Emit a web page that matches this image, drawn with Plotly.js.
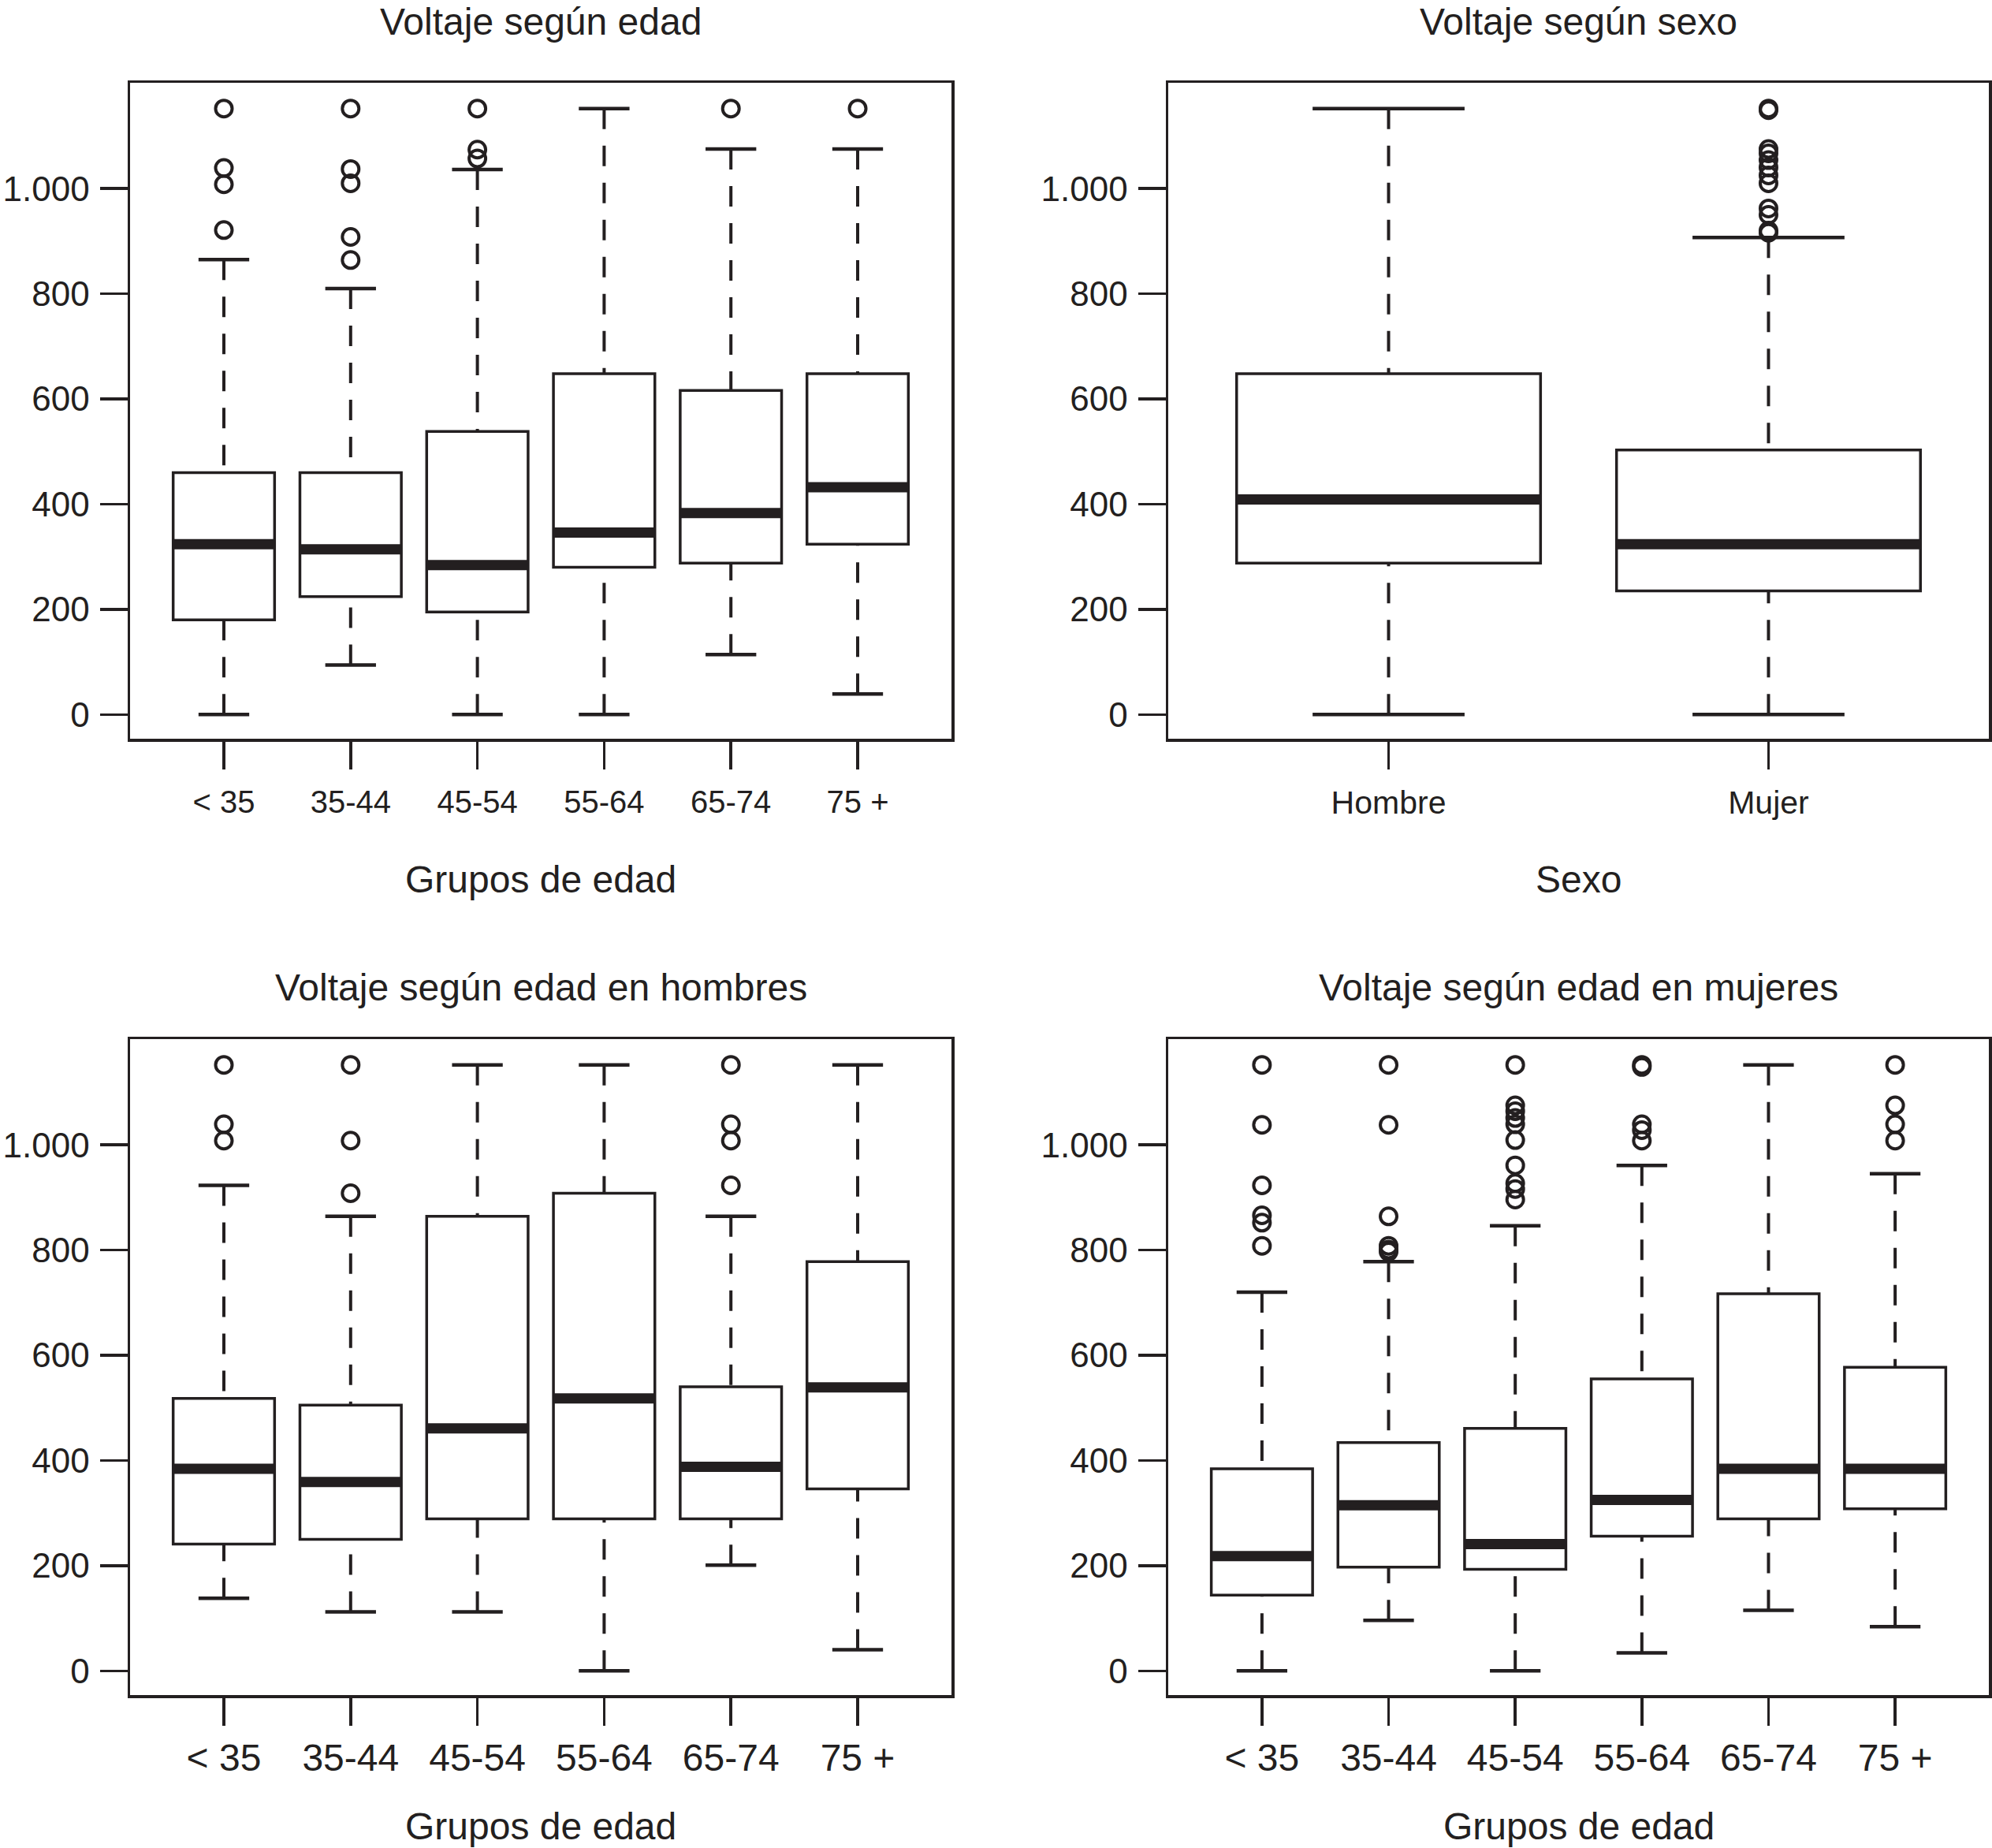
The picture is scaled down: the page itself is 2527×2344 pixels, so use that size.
<!DOCTYPE html>
<html>
<head>
<meta charset="utf-8">
<script src="https://cdn.plot.ly/plotly-3.0.1.min.js"></script>
<style>
	html, body { margin: 0; padding: 0; background: #fff; }
	#chart { width: 2527px; height: 2344px; }
</style>
</head>
<body>
<div id="chart"></div>
<script>
'use strict';

// categories and tick labels
const ageGroups = ['< 35', '35-44', '45-54', '55-64', '65-74', '75 +'];
const sexGroups = ['Hombre', 'Mujer'];
const yTickVals = [0, 200, 400, 600, 800, 1000];
const yTickText = ['0', '200', '400', '600', '800', '1.000'];

// Voltaje según edad
const ageLow = [0, 94, 0, 0, 114, 39];
const ageQ1 = [180, 224, 195, 280, 288, 324];
const ageMed = [324, 314, 284, 346, 383, 432];
const ageQ3 = [460, 460, 538, 648, 616, 648];
const ageHigh = [865, 810, 1036, 1152, 1075, 1075];
const ageOut = [
	[1152, 1039, 1008, 921],
	[1152, 1037, 1010, 908, 864],
	[1152, 1074, 1057],
	[],
	[1152],
	[1152]
];

// Voltaje según sexo
const sexLow = [0, 0];
const sexQ1 = [288, 235];
const sexMed = [409, 324];
const sexQ3 = [648, 503];
const sexHigh = [1152, 907];
const sexOut = [
	[],
	[1152, 1149, 1075, 1067, 1054, 1040, 1025, 1010, 962, 950, 920, 916]
];

// Voltaje según edad en hombres
const menLow = [138, 112, 112, 0, 201, 40];
const menQ1 = [241, 250, 289, 289, 289, 346];
const menMed = [384, 359, 461, 518, 388, 539];
const menQ3 = [518, 505, 864, 908, 540, 778];
const menHigh = [923, 864, 1152, 1152, 864, 1152];
const menOut = [
	[1152, 1039, 1008],
	[1152, 1008, 908],
	[],
	[],
	[1152, 1039, 1008, 923],
	[]
];

// Voltaje según edad en mujeres
const womenLow = [0, 96, 0, 34, 115, 84];
const womenQ1 = [144, 197, 193, 256, 289, 308];
const womenMed = [218, 315, 241, 325, 384, 384];
const womenQ3 = [384, 434, 461, 555, 717, 577];
const womenHigh = [720, 778, 846, 961, 1152, 945];
const womenOut = [
	[1152, 1038, 923, 866, 852, 808],
	[1152, 1038, 864, 808, 801, 797],
	[1152, 1075, 1064, 1051, 1039, 1009, 961, 927, 916, 896],
	[1152, 1148, 1039, 1028, 1008],
	[],
	[1152, 1075, 1039, 1008]
];

document.addEventListener('DOMContentLoaded', function(){

	const ink = '#231f20';
	const font = 'Liberation Sans, Arial, Helvetica, sans-serif';
	const boxWidth = 0.8, capWidth = 0.4;

	function panel(cats, low, q1, med, q3, high, outl, xa, ya)
	{
		const pos = cats.map(function(c, i){ return i + 1; });
		let wx = [], wy = [], cx = [], cy = [], mx = [], my = [], ox = [], oy = [];

		pos.forEach(function(p, i){
			// dashed whiskers, drawn from the staple in towards the box
			wx.push(p, p, null, p, p, null);
			wy.push(high[i], q3[i], null, low[i], q1[i], null);
			// staples
			cx.push(p - capWidth / 2, p + capWidth / 2, null, p - capWidth / 2, p + capWidth / 2, null);
			cy.push(high[i], high[i], null, low[i], low[i], null);
			// thick median
			mx.push(p - boxWidth / 2, p + boxWidth / 2, null);
			my.push(med[i], med[i], null);
			outl[i].forEach(function(v){
				ox.push(p);
				oy.push(v);
			});
		});

		const box = {
			type: 'box', x: pos, q1: q1, median: med, q3: q3,
			lowerfence: q1, upperfence: q3,
			width: boxWidth, whiskerwidth: 0,
			line: {color: ink, width: 3.5}, fillcolor: '#ffffff',
			xaxis: xa, yaxis: ya, hoverinfo: 'skip', showlegend: false
		};
		const whiskers = {
			type: 'scatter', mode: 'lines', x: wx, y: wy,
			line: {color: ink, width: 4, dash: '26px,21px'},
			xaxis: xa, yaxis: ya, hoverinfo: 'skip', showlegend: false
		};
		const caps = {
			type: 'scatter', mode: 'lines', x: cx, y: cy,
			line: {color: ink, width: 4.5},
			xaxis: xa, yaxis: ya, hoverinfo: 'skip', showlegend: false
		};
		const medians = {
			type: 'scatter', mode: 'lines', x: mx, y: my,
			line: {color: ink, width: 13},
			xaxis: xa, yaxis: ya, hoverinfo: 'skip', showlegend: false
		};
		const outliers = {
			type: 'scatter', mode: 'markers', x: ox, y: oy,
			marker: {symbol: 'circle-open', size: 21, color: ink, line: {color: ink, width: 4}},
			xaxis: xa, yaxis: ya, hoverinfo: 'skip', showlegend: false
		};
		return [box, whiskers, caps, medians, outliers];
	}

	function xAxis(domain, anchor, cats, size, standoff)
	{
		const pad = 0.5 + cats.length * 0.04;
		return {
			domain: domain, anchor: anchor,
			range: [1 - pad, cats.length + pad],
			tickvals: cats.map(function(c, i){ return i + 1; }),
			ticktext: cats,
			ticks: 'outside', ticklen: 35, tickwidth: 3.5, tickcolor: ink,
			ticklabelstandoff: standoff,
			tickfont: {family: font, size: size, color: ink},
			showline: true, mirror: true, linewidth: 3.5, linecolor: ink,
			showgrid: false, zeroline: false, automargin: false, fixedrange: true
		};
	}

	function yAxis(domain, anchor)
	{
		return {
			domain: domain, anchor: anchor,
			range: [-46, 1201],
			tickvals: yTickVals, ticktext: yTickText,
			ticks: 'outside', ticklen: 35, tickwidth: 3.5, tickcolor: ink,
			ticklabelstandoff: 4,
			tickfont: {family: font, size: 44, color: ink},
			showline: true, mirror: true, linewidth: 3.5, linecolor: ink,
			showgrid: false, zeroline: false, automargin: false, fixedrange: true
		};
	}

	function label(text, x, y)
	{
		return {
			text: text, xref: 'paper', yref: 'paper', x: x, y: y,
			xanchor: 'center', yanchor: 'middle', showarrow: false,
			font: {family: font, size: 48, color: ink}
		};
	}

	const W = 2527, H = 2344;
	const xLeft = [165 / W, 1207 / W], xRight = [1482 / W, 2523 / W];
	const yTop = [1 - 937 / H, 1 - 105 / H], yBottom = [1 - 2150 / H, 1 - 1318 / H];
	const cLeft = (xLeft[0] + xLeft[1]) / 2, cRight = (xRight[0] + xRight[1]) / 2;

	try {
		const data = [].concat(
			panel(ageGroups, ageLow, ageQ1, ageMed, ageQ3, ageHigh, ageOut, 'x', 'y'),
			panel(sexGroups, sexLow, sexQ1, sexMed, sexQ3, sexHigh, sexOut, 'x2', 'y2'),
			panel(ageGroups, menLow, menQ1, menMed, menQ3, menHigh, menOut, 'x3', 'y3'),
			panel(ageGroups, womenLow, womenQ1, womenMed, womenQ3, womenHigh, womenOut, 'x4', 'y4')
		);

		const layout = {
			width: W, height: H,
			margin: {l: 0, r: 0, t: 0, b: 0},
			paper_bgcolor: '#ffffff', plot_bgcolor: '#ffffff',
			showlegend: false, hovermode: false,
			xaxis: xAxis(xLeft, 'y', ageGroups, 40, 7),
			yaxis: yAxis(yTop, 'x'),
			xaxis2: xAxis(xRight, 'y2', sexGroups, 41, 7),
			yaxis2: yAxis(yTop, 'x2'),
			xaxis3: xAxis(xLeft, 'y3', ageGroups, 48, 0),
			yaxis3: yAxis(yBottom, 'x3'),
			xaxis4: xAxis(xRight, 'y4', ageGroups, 48, 0),
			yaxis4: yAxis(yBottom, 'x4'),
			annotations: [
				label('Voltaje según edad', cLeft, 1 - 27 / H),
				label('Voltaje según sexo', cRight, 1 - 27 / H),
				label('Grupos de edad', cLeft, 1 - 1115 / H),
				label('Sexo', cRight, 1 - 1115 / H),
				label('Voltaje según edad en hombres', cLeft, 1 - 1252 / H),
				label('Voltaje según edad en mujeres', cRight, 1 - 1252 / H),
				label('Grupos de edad', cLeft, 1 - 2316 / H),
				label('Grupos de edad', cRight, 1 - 2316 / H)
			]
		};

		Plotly.newPlot('chart', data, layout, {displayModeBar: false, staticPlot: true});
	}
	catch (err) {
		console.error(err);
	}
});
</script>
</body>
</html>
